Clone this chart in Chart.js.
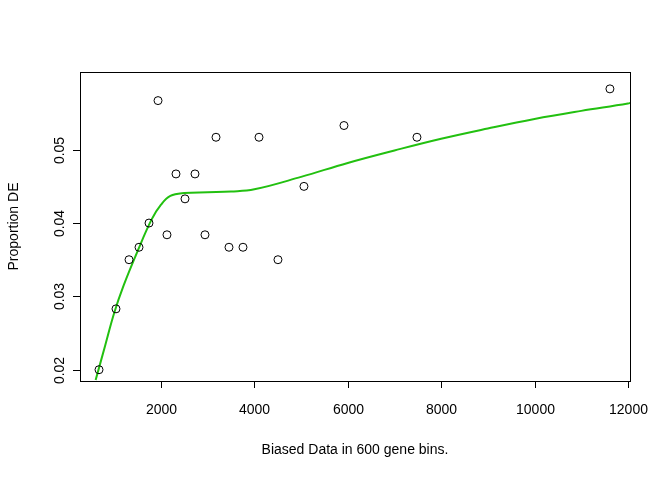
<!DOCTYPE html>
<html><head><script src="https://cdn.jsdelivr.net/npm/chart.js@4"></script>
<style>body{margin:0;background:#fff}#w{width:672px;height:480px}</style></head>
<body><div id="w"><canvas id="c"></canvas></div>
<script>
const pointX=[672,1036,1315,1529,1743,1936,2128,2321,2514,2728,2942,3178,3456,3756,4099,4505,5062,5919,7482,11615];
const pointY=[0.020,0.0283,0.035,0.0367,0.040,0.0567,0.0384,0.0467,0.0433,0.0467,0.0384,0.0517,0.0367,0.0367,0.0517,0.035,0.045,0.0533,0.0517,0.0583];
const curveX=[600,800,1000,1200,1500,1800,2000,2200,2500,3000,3500,4000,5000,6000,7000,8000,9000,10000,11000,12000,12100];
const curveY=[0.0186,0.0232,0.0278,0.0315,0.0362,0.0405,0.0425,0.0437,0.0441,0.0442,0.0443,0.0446,0.0463,0.0482,0.0499,0.0515,0.0529,0.0542,0.0553,0.0563,0.0565];
const xTicks=[2000,4000,6000,8000,10000,12000];
const yTicks=[0.02,0.03,0.04,0.05];
const FONT='14px "Liberation Sans", Arial, sans-serif';
const axesPlugin={id:'rax',afterDraw(ch){
  const c=ch.ctx,a=ch.chartArea,xs=ch.scales.x,ys=ch.scales.y;
  c.save();c.strokeStyle='#000';c.lineWidth=1;c.fillStyle='#000';c.font=FONT;
  c.strokeRect(a.left+0.5,a.top+0.5,a.right-a.left,a.bottom-a.top);
  c.textAlign='center';c.textBaseline='top';
  c.beginPath();
  const x0=xs.getPixelForValue(xTicks[0]),x1=xs.getPixelForValue(xTicks[xTicks.length-1]);
  c.moveTo(x0,a.bottom+0.5);c.lineTo(x1,a.bottom+0.5);
  xTicks.forEach(v=>{const p=Math.round(xs.getPixelForValue(v))+0.5;c.moveTo(p,a.bottom);c.lineTo(p,a.bottom+7);c.fillText(String(v),p,a.bottom+22);});
  const y0=ys.getPixelForValue(yTicks[0]),y1=ys.getPixelForValue(yTicks[yTicks.length-1]);
  c.moveTo(a.left+0.5,y0);c.lineTo(a.left+0.5,y1);
  yTicks.forEach(v=>{const p=Math.round(ys.getPixelForValue(v))+0.5;c.moveTo(a.left,p);c.lineTo(a.left-7,p);
    c.save();c.translate(a.left-20,p);c.rotate(-Math.PI/2);c.textBaseline='middle';c.fillText(v.toFixed(2),0,0);c.restore();});
  c.stroke();
  c.fillText('Biased Data in 600 gene bins.',(a.left+a.right)/2,443);
  c.save();c.translate(14,(a.top+a.bottom)/2);c.rotate(-Math.PI/2);c.textBaseline='middle';c.fillText('Proportion DE',0,0);c.restore();
  c.restore();}};
new Chart(document.getElementById('c'),{
  data:{datasets:[
    {type:'scatter',data:pointX.map((x,i)=>({x,y:pointY[i]})),pointRadius:4,pointBorderColor:'#000',pointBackgroundColor:'rgba(0,0,0,0)',pointBorderWidth:1,order:1},
    {type:'line',data:curveX.map((x,i)=>({x,y:curveY[i]})),borderColor:'#22c010',borderWidth:2,pointRadius:0,tension:0.4,fill:false,order:2}
  ]},
  options:{responsive:true,maintainAspectRatio:false,animation:false,clip:true,
    layout:{padding:{left:80,top:72,right:42,bottom:99}},
    plugins:{legend:{display:false},tooltip:{enabled:false}},
    scales:{x:{type:'linear',min:265,max:12045,display:false},y:{min:0.01846,max:0.0606,display:false}}},
  plugins:[axesPlugin]});
</script></body></html>
